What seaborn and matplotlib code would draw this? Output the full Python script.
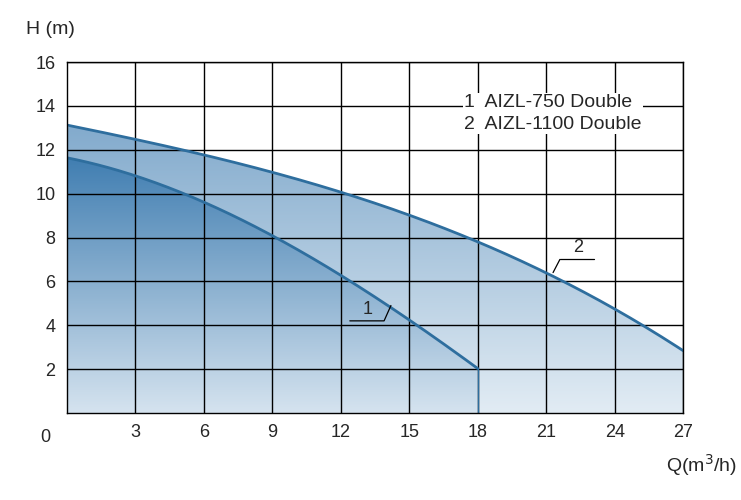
import numpy as np
import pandas as pd
import matplotlib
matplotlib.use("Agg")
import matplotlib.pyplot as plt
import seaborn as sns
from matplotlib.colors import LinearSegmentedColormap

# data
flow = [0, 3, 6, 9, 12, 15, 18, 21, 24, 27]
head_1100 = [13.1, 12.5, 11.8, 11.0, 10.0, 9.0, 7.8, 6.4, 4.8, 2.8]
flow_750 = [0, 3, 6, 9, 12, 15, 18]
head_750 = [11.6, 10.9, 9.6, 8.0, 6.3, 4.3, 2.0]
x_ticks = [3, 6, 9, 12, 15, 18, 21, 24, 27]
y_ticks = [2, 4, 6, 8, 10, 12, 14, 16]

sns.set_style("white")
plt.rcParams['font.family'] = ['Liberation Sans', 'DejaVu Sans']

fig = plt.figure(figsize=(7.41, 5.0), dpi=100)
ax = fig.add_axes([0.090, 0.174, 0.832, 0.702])
ax.set_xlim(0, 27)
ax.set_ylim(0, 16)

def smooth(xs, ys):
    xx = np.linspace(xs[0], xs[-1], 200)
    coef = np.polyfit(xs, ys, 3)
    return xx, np.polyval(coef, xx)

def gradient_fill(xs, ys, top, bottom, z):
    xx, yy = smooth(xs, ys)
    poly = ax.fill_between(xx, 0, yy, color="none", zorder=z)
    cmap = LinearSegmentedColormap.from_list("g", [bottom, top])
    grad = np.linspace(0, 1, 256).reshape(-1, 1)
    im = ax.imshow(grad, cmap=cmap, origin="lower", aspect="auto",
                   extent=[0, 27, 0, 13], zorder=z)
    im.set_clip_path(poly.get_paths()[0], transform=ax.transData)
    return xx, yy

x2, y2 = gradient_fill(flow, head_1100, "#83abcd", "#e2ecf4", 1)
x1, y1 = gradient_fill(flow_750, head_750, "#2f72aa", "#d5e3ef", 2)

smooth_df = pd.concat([
    pd.DataFrame({"Q": x2, "H": y2, "model": "2"}),
    pd.DataFrame({"Q": x1, "H": y1, "model": "1"}),
])
sns.lineplot(data=smooth_df, x="Q", y="H", hue="model", palette=["#2e6e9e", "#2e6e9e"],
             linewidth=2, legend=False, ax=ax, zorder=4)
ax.plot([18, 18], [0, head_750[-1]], color="#2e6e9e", lw=1, zorder=4)

for v in x_ticks:
    ax.axvline(v, color="black", lw=1, zorder=3)
for v in y_ticks:
    ax.axhline(v, color="black", lw=1, zorder=3)
for s in ax.spines.values():
    s.set_color("black")
    s.set_linewidth(1)
    s.set_zorder(5)

ax.set_xticks(x_ticks)
ax.set_yticks(y_ticks)
ax.tick_params(length=0, labelsize=13, pad=8)
ax.set_xlabel("")
ax.set_ylabel("")
fig.text(0.061, 0.126, "0", fontsize=13, ha="center", va="center")
fig.text(0.035, 0.94, "H (m)", fontsize=14, ha="left", va="center")
fig.text(0.995, 0.07, "Q(m$^3$/h)", fontsize=14, ha="right", va="center")

ax.text(17.4, 13.65, "1  AIZL-750 Double\n2  AIZL-1100 Double", fontsize=14, va="center",
        linespacing=1.35, zorder=6,
        bbox=dict(facecolor="white", edgecolor="none", pad=1))

# callouts
ax.plot([12.4, 13.9, 14.2], [4.2, 4.2, 4.9], color="black", lw=0.9, zorder=6)
ax.text(13.2, 4.35, "1", fontsize=13, ha="center", va="bottom", zorder=6)
ax.plot([21.6, 23.1], [7.0, 7.0], color="black", lw=0.9, zorder=6)
ax.plot([21.6, 21.3], [7.0, 6.4], color="black", lw=0.9, zorder=6)
ax.text(22.4, 7.15, "2", fontsize=13, ha="center", va="bottom", zorder=6)

fig.savefig("out.png", dpi=100)
